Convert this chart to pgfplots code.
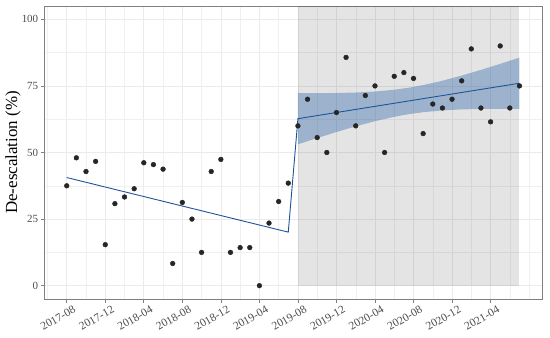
\documentclass[border=0pt]{standalone}
\usepackage{pgfplots}
\pgfplotsset{compat=1.18}
\usepackage{pgfplotstable}
\usepackage{fontspec}
\setmainfont{Liberation Serif}
\definecolor{ptcol}{RGB}{38,38,38}
\definecolor{fitcol}{RGB}{31,83,155}
\definecolor{ribcol}{RGB}{50,105,170}
\definecolor{bordercol}{RGB}{128,128,128}
\definecolor{ticklab}{RGB}{77,77,77}
\pgfplotstableread{
m v
0 37.5
1 48.0
2 42.86
3 46.67
4 15.4
5 30.8
6 33.3
7 36.4
8 46.15
9 45.45
10 43.75
11 8.33
12 31.25
13 25.0
14 12.5
15 42.86
16 47.4
17 12.5
18 14.3
19 14.3
20 0
21 23.5
22 31.6
23 38.5
24 60
25 70
26 55.6
27 50
28 65
29 85.7
30 60
31 71.4
32 75
33 50
34 78.6
35 80
36 77.8
37 57.1
38 68.2
39 66.7
40 70
41 76.9
42 88.9
43 66.7
44 61.5
45 90
46 66.7
47 75
}\points
\begin{document}
\begin{tikzpicture}
\path[use as bounding box] (0,0) rectangle (550bp,338bp);
\begin{axis}[
  at={(44.1bp,39bp)}, anchor=south west,
  scale only axis, width=498bp, height=293bp,
  xmin=-2.35, xmax=49.35, ymin=-5, ymax=105,
  xtick={0,4,8,12,16,20,24,28,32,36,40,44},
  xticklabels={2017-08,2017-12,2018-04,2018-08,2018-12,2019-04,2019-08,2019-12,2020-04,2020-08,2020-12,2021-04},
  minor xtick={-2,2,6,10,14,18,22,26,30,34,38,42,46,48},
  ytick={0,25,50,75,100},
  minor ytick={12.5,37.5,62.5,87.5},
  grid=both,
  major grid style={color=black!8, line width=0.6bp},
  minor grid style={color=black!6, line width=0.35bp},
  tick align=outside,
  major tick length=3.5bp, minor tick length=0pt,
  tick style={color=bordercol, line width=0.6bp},
  xtick pos=bottom, ytick pos=left,
  axis line style={color=bordercol, line width=0.9bp},
  /pgf/number format/assume math mode=true,
  ticklabel style={font=\fontsize{11}{11}\selectfont, text=ticklab},
  yticklabel style={inner sep=2.2bp},
  xticklabel style={rotate=30, anchor=north east, inner sep=1bp, xshift=5bp, yshift=-4bp, font=\fontsize{11.5}{11.5}\selectfont},
  ylabel={De-escalation (\%)},
  ylabel style={at={(axis description cs:-0.0625,0.5)}, anchor=center, font=\fontsize{17}{17}\selectfont, text=black},
]
\addplot[draw=none, fill=black, fill opacity=0.105] coordinates {(24,0) (47,0) (47,105) (24,105)} -- cycle;
\addplot[only marks, mark=*, mark size=2.4bp, color=ptcol] table[x=m, y=v] {\points};
\addplot[draw=none, fill=ribcol, fill opacity=0.4] coordinates {
(24,72.34) (26,72.30) (28,72.34) (30,72.52) (32,72.89) (34,73.57) (35.5,74.32) (37,75.30) (39,76.94) (41,78.88) (43,81.01) (45,83.28) (47,85.63)
(47,66.35) (45,66.40) (43,66.35) (41,66.18) (39,65.80) (37,65.12) (35.5,64.38) (34,63.39) (32,61.75) (30,59.82) (28,57.68) (26,55.42) (24,53.06)
} -- cycle;
\addplot[color=fitcol, line width=0.9bp, mark=none] coordinates {(0,40.6) (23,20.1) (24,62.7) (47,76.0)};
\end{axis}
\end{tikzpicture}
\end{document}
